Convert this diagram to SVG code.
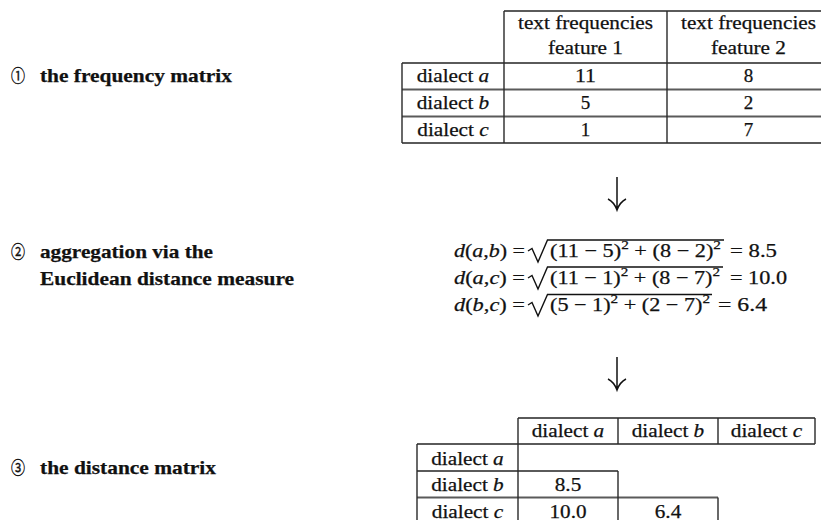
<svg xmlns="http://www.w3.org/2000/svg" width="821" height="520" viewBox="0 0 821 520">
<style>
.t{font-family:"Liberation Serif","Times New Roman",serif;font-size:19px;fill:#111;stroke:#111;stroke-width:0.25}
.c{text-anchor:middle}
.b{font-weight:bold}
.i{font-style:italic}
.n{font-family:"Noto Sans CJK JP","DejaVu Sans",sans-serif;font-size:17px;fill:#111;stroke:#111;stroke-width:0.4}
.h{stroke:#5a5a5a;stroke-width:2;fill:none}
.v{stroke:#2a2a2a;stroke-width:1.4;fill:none}
.ln{stroke:#111;stroke-width:1.4;fill:none}
.ar{stroke:#111;stroke-width:1.5;fill:none}
</style>
<rect width="821" height="520" fill="#fff"/>

<g id="step1-label">
<text class="n" x="11" y="82" textLength="14" lengthAdjust="spacingAndGlyphs">①</text>
<text class="t b" x="40" y="82" textLength="192" lengthAdjust="spacingAndGlyphs">the frequency matrix</text>
</g>

<g id="frequency-matrix">
<path class="h" d="M504,11H830M402,63H830M402,89.5H830M402,116.5H830M402,143H830"/>
<path class="v" d="M402,63V143M504,11V143M667,11V143"/>
<text class="t c" x="585.5" y="28.5" textLength="135" lengthAdjust="spacingAndGlyphs">text frequencies</text>
<text class="t c" x="585.5" y="53.5" textLength="75" lengthAdjust="spacingAndGlyphs">feature 1</text>
<text class="t c" x="748.5" y="28.5" textLength="135" lengthAdjust="spacingAndGlyphs">text frequencies</text>
<text class="t c" x="748.5" y="53.5" textLength="75" lengthAdjust="spacingAndGlyphs">feature 2</text>
<text class="t c" x="453" y="82" textLength="72.5" lengthAdjust="spacingAndGlyphs">dialect <tspan class="i">a</tspan></text>
<text class="t c" x="453" y="109" textLength="72.5" lengthAdjust="spacingAndGlyphs">dialect <tspan class="i">b</tspan></text>
<text class="t c" x="453" y="136" textLength="71.5" lengthAdjust="spacingAndGlyphs">dialect <tspan class="i">c</tspan></text>
<text class="t c" x="585.5" y="82" textLength="21" lengthAdjust="spacingAndGlyphs">11</text>
<text class="t c" x="585.5" y="109">5</text>
<text class="t c" x="585.5" y="136">1</text>
<text class="t c" x="748.5" y="82">8</text>
<text class="t c" x="748.5" y="109">2</text>
<text class="t c" x="748.5" y="136">7</text>
</g>

<g id="step2-label">
<text class="n" x="11" y="258" textLength="14" lengthAdjust="spacingAndGlyphs">②</text>
<text class="t b" x="40" y="258" textLength="173" lengthAdjust="spacingAndGlyphs">aggregation via the</text>
<text class="t b" x="40" y="285" textLength="254" lengthAdjust="spacingAndGlyphs">Euclidean distance measure</text>
</g>

<g id="formulas">
<text class="t" x="454" y="257" textLength="71" lengthAdjust="spacingAndGlyphs"><tspan class="i">d</tspan>(<tspan class="i">a</tspan>,<tspan class="i">b</tspan>) =</text>
<path class="ln" d="M528,251L532,248.5L538,262L547.5,240H724"/>
<text class="t" x="550" y="257" textLength="171" lengthAdjust="spacingAndGlyphs">(11 − 5)<tspan dy="-8" font-size="13">2</tspan><tspan dy="8"> + (8 − 2)</tspan><tspan dy="-8" font-size="13">2</tspan></text>
<text class="t" x="730" y="257" textLength="47" lengthAdjust="spacingAndGlyphs">= 8.5</text>

<text class="t" x="454" y="284" textLength="71" lengthAdjust="spacingAndGlyphs"><tspan class="i">d</tspan>(<tspan class="i">a</tspan>,<tspan class="i">c</tspan>) =</text>
<path class="ln" d="M528,278L532,275.5L538,289L547.5,267H723"/>
<text class="t" x="550" y="284" textLength="170" lengthAdjust="spacingAndGlyphs">(11 − 1)<tspan dy="-8" font-size="13">2</tspan><tspan dy="8"> + (8 − 7)</tspan><tspan dy="-8" font-size="13">2</tspan></text>
<text class="t" x="730" y="284" textLength="57" lengthAdjust="spacingAndGlyphs">= 10.0</text>

<text class="t" x="454" y="311" textLength="71" lengthAdjust="spacingAndGlyphs"><tspan class="i">d</tspan>(<tspan class="i">b</tspan>,<tspan class="i">c</tspan>) =</text>
<path class="ln" d="M528,305L532,302.5L538,316L547.5,294.5H712"/>
<text class="t" x="550" y="311" textLength="160" lengthAdjust="spacingAndGlyphs">(5 − 1)<tspan dy="-8" font-size="13">2</tspan><tspan dy="8"> + (2 − 7)</tspan><tspan dy="-8" font-size="13">2</tspan></text>
<text class="t" x="718" y="311" textLength="49" lengthAdjust="spacingAndGlyphs">= 6.4</text>
</g>

<g id="step3-label">
<text class="n" x="11" y="474" textLength="14" lengthAdjust="spacingAndGlyphs">③</text>
<text class="t b" x="40" y="474" textLength="176" lengthAdjust="spacingAndGlyphs">the distance matrix</text>
</g>

<g id="distance-matrix">
<path class="h" d="M518,418H815M417,444H815M417,471H618M417,497.5H718"/>
<path class="v" d="M417,444V521M518,418V521M618,418V444M618,471V521M718,418V444M718,497.5V521M815,418V444"/>
<text class="t c" x="568" y="437" textLength="72.5" lengthAdjust="spacingAndGlyphs">dialect <tspan class="i">a</tspan></text>
<text class="t c" x="668" y="437" textLength="72.5" lengthAdjust="spacingAndGlyphs">dialect <tspan class="i">b</tspan></text>
<text class="t c" x="766.5" y="437" textLength="71.5" lengthAdjust="spacingAndGlyphs">dialect <tspan class="i">c</tspan></text>
<text class="t c" x="467.5" y="464.5" textLength="72.5" lengthAdjust="spacingAndGlyphs">dialect <tspan class="i">a</tspan></text>
<text class="t c" x="467.5" y="491" textLength="72.5" lengthAdjust="spacingAndGlyphs">dialect <tspan class="i">b</tspan></text>
<text class="t c" x="467.5" y="517.5" textLength="71.5" lengthAdjust="spacingAndGlyphs">dialect <tspan class="i">c</tspan></text>
<text class="t c" x="568" y="491" textLength="26.5" lengthAdjust="spacingAndGlyphs">8.5</text>
<text class="t c" x="568" y="517.5" textLength="37" lengthAdjust="spacingAndGlyphs">10.0</text>
<text class="t c" x="668" y="517.5" textLength="26.5" lengthAdjust="spacingAndGlyphs">6.4</text>
</g>

<g id="connectors">
<path class="ar" d="M617,177V209M608,199Q614,202 617,210Q620,202 626,199"/>
<path class="ar" d="M617,357V389M608,379Q614,382 617,390Q620,382 626,379"/>
</g>
</svg>
